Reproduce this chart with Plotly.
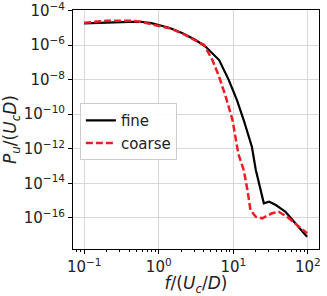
import plotly.graph_objects as go

# Fine mesh spectrum
f_fine = [0.1, 0.204, 0.398, 0.575, 0.794, 1.0, 1.41, 2.09, 3.13, 4.27, 5.01, 6.46, 8.71,
          11.2, 13.8, 17.8, 20.0, 23.4, 25.7, 30.2, 37.2, 50.1, 67.6, 97.7]
p_fine = [1.86e-5, 2.14e-5, 2.24e-5, 2.29e-5, 1.9e-5, 1.48e-5, 1.0e-5, 4.9e-6, 2.0e-6, 8.1e-7,
          4.2e-7, 1.38e-7, 9.5e-9, 6.6e-10, 4.6e-11, 1.26e-12, 6.3e-14, 4.1e-15, 6.9e-16,
          8.5e-16, 5.5e-16, 2.24e-16, 4.8e-17, 7.9e-18]

# Coarse mesh spectrum
f_coarse = [0.1, 0.204, 0.427, 0.575, 0.871, 1.41, 2.09, 3.13, 4.07, 5.25, 6.46, 7.94, 9.77,
            11.7, 13.8, 15.5, 17.0, 20.0, 24.5, 33.1, 40.7, 52.5, 75.9, 97.7]
p_coarse = [2.0e-5, 2.63e-5, 2.63e-5, 2.29e-5, 1.48e-5, 9.5e-6, 4.7e-6, 1.9e-6, 1.02e-6, 1.38e-7,
            1.48e-8, 1.02e-9, 4.6e-11, 5.0e-13, 5.9e-14, 4.1e-15, 2.8e-16, 1.15e-16, 9.3e-17,
            1.82e-16, 2.24e-16, 1.15e-16, 3.0e-17, 1.26e-17]

x_tickvals = [0.1, 1, 10, 100]
x_ticktext = ["10<sup>−1</sup>", "10<sup>0</sup>", "10<sup>1</sup>", "10<sup>2</sup>"]
x_minor_vals = [0.08, 0.09,
                0.2, 0.3, 0.4, 0.5, 0.6, 0.7, 0.8, 0.9,
                2, 3, 4, 5, 6, 7, 8, 9,
                20, 30, 40, 50, 60, 70, 80, 90,
                200, 300, 400, 500, 600, 700, 800, 900]
y_tickvals = [1e-16, 1e-14, 1e-12, 1e-10, 1e-8, 1e-6, 1e-4]
y_ticktext = ["10<sup>−16</sup>", "10<sup>−14</sup>", "10<sup>−12</sup>", "10<sup>−10</sup>",
              "10<sup>−8</sup>", "10<sup>−6</sup>", "10<sup>−4</sup>"]

fig = go.Figure()
fig.add_trace(go.Scatter(x=f_fine, y=p_fine, mode="lines", name="fine",
                         line=dict(color="black", width=2.2)))
fig.add_trace(go.Scatter(x=f_coarse, y=p_coarse, mode="lines", name="coarse",
                         line=dict(color="#ee1c25", width=2.5, dash="7px,3px")))

axis_common = dict(showline=True, linecolor="black", linewidth=1, mirror=True,
                   ticks="outside", ticklen=4, tickcolor="black", automargin=False,
                   ticklabeloverflow="allow",
                   showgrid=True, gridcolor="#d9d9d9", gridwidth=1, zeroline=False,
                   tickfont=dict(family="DejaVu Sans", size=15, color="#222"))

fig.update_xaxes(type="log", range=[-1.15, 2.15], tickvals=x_tickvals, ticktext=x_ticktext,
                 title=dict(text="<i>f</i>/(<i>U<sub>c</sub></i>/<i>D</i>)", standoff=5,
                            font=dict(family="DejaVu Sans", size=17, color="#222")),
                 minor=dict(tickvals=x_minor_vals, ticks="outside", ticklen=2,
                            tickcolor="black", tickwidth=0.8, showgrid=False),
                 **axis_common)
fig.update_yaxes(type="log", range=[-17.81, -3.96], tickvals=y_tickvals, ticktext=y_ticktext,
                 title=dict(text="<i>P<sub>u</sub></i>/(<i>U<sub>c</sub>D</i>)", standoff=3,
                            font=dict(family="DejaVu Sans", size=17, color="#222")),
                 **axis_common)

fig.update_layout(width=327, height=296, margin=dict(l=73, r=8, t=10, b=47),
                  plot_bgcolor="white", paper_bgcolor="white",
                  legend=dict(x=0.028, y=0.61, xanchor="left", yanchor="top",
                              bgcolor="rgba(255,255,255,0.9)", bordercolor="#cccccc", borderwidth=1,
                              font=dict(family="DejaVu Sans", size=15, color="#222")),
                  showlegend=True)

fig.write_html("out.html", config={"displayModeBar": False},
               post_script="document.body.style.margin='0';document.body.style.padding='0';")
